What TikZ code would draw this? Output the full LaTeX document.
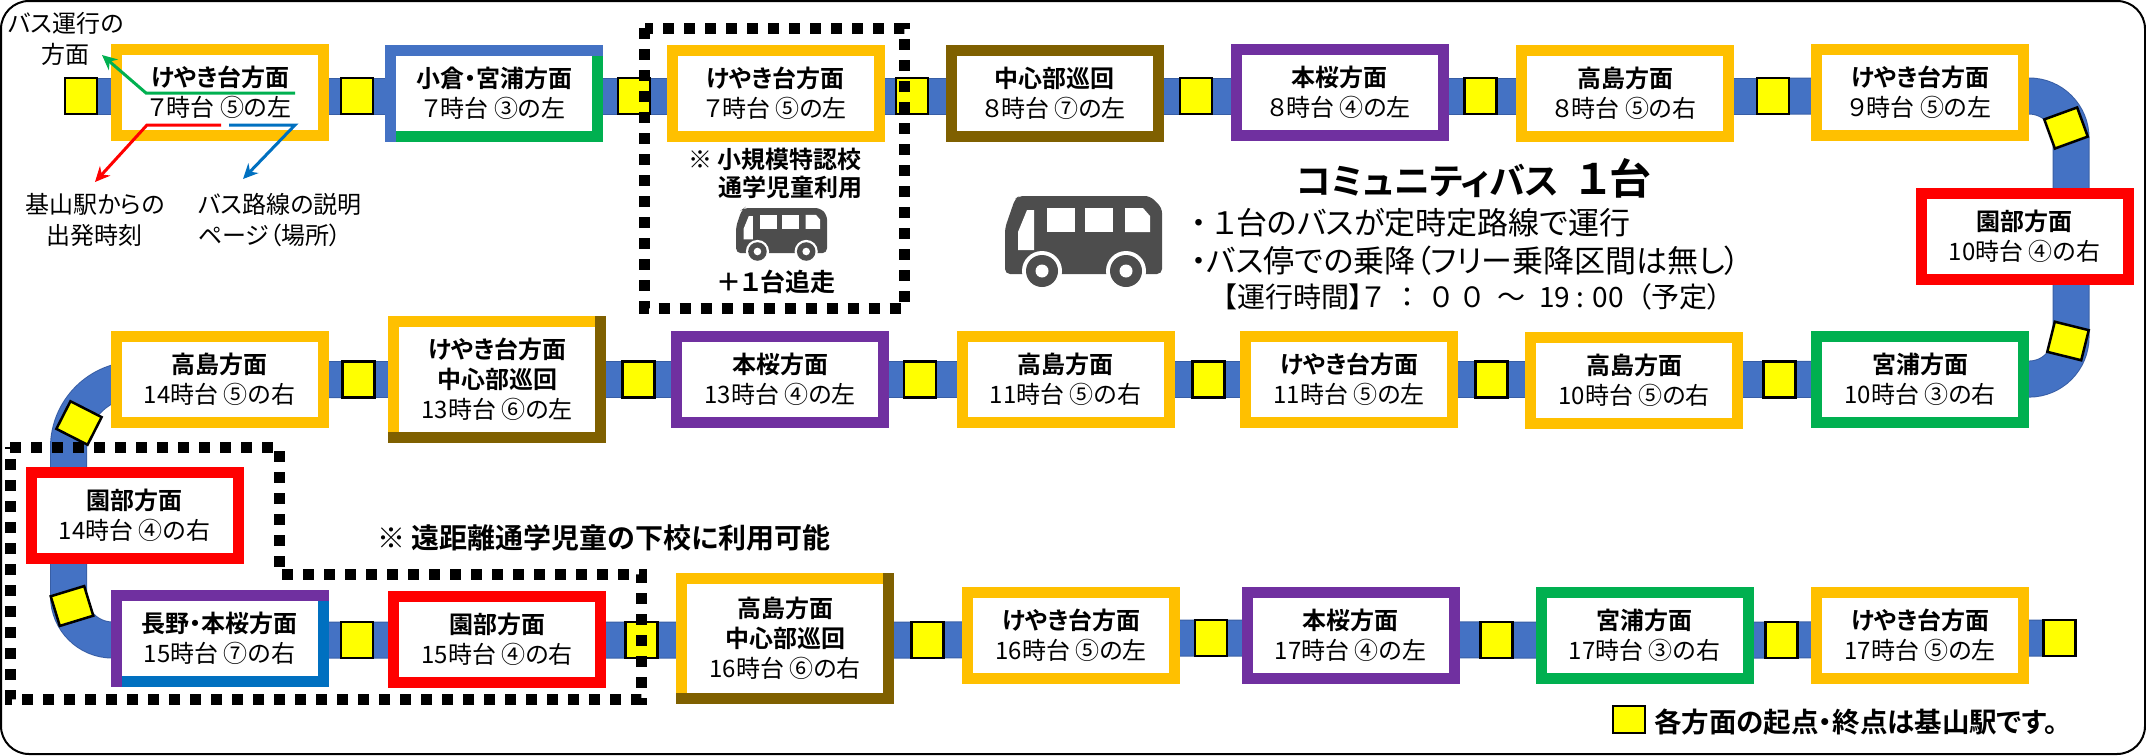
\documentclass[tikz,border=0pt]{standalone}
\usepackage{fontspec}
\usepackage{xcolor}
\usetikzlibrary{arrows.meta,backgrounds}
\setmainfont{Noto Sans CJK JP}[BoldFont={Noto Sans CJK JP Bold},RawFeature={+palt}]
\definecolor{gold}{RGB}{255, 192, 0}
\definecolor{route}{RGB}{68, 114, 196}
\definecolor{routeedge}{RGB}{56, 94, 165}
\definecolor{lawn}{RGB}{0, 176, 80}
\definecolor{sky}{RGB}{0, 112, 192}
\definecolor{plum}{RGB}{112, 48, 160}
\definecolor{umber}{RGB}{127, 96, 0}
\definecolor{lemon}{RGB}{255, 255, 0}
\definecolor{busgray}{RGB}{77, 77, 77}
\tikzset{
  trip/.style={draw=#1, fill=white, line width=11pt, outer sep=0pt, inner sep=0pt,
    minimum width=207pt, minimum height=86pt, align=center,
    font=\fontsize{24}{30}\selectfont},
  stop/.style={draw=black, fill=lemon, line width=2.5pt, inner sep=0pt, outer sep=0pt,
    minimum width=32pt, minimum height=36pt},
  band/.style={draw=routeedge, double=route, double distance=35pt, line width=1pt},
  dots/.style={color=black, line width=11pt, dash pattern=on 11pt off 10pt},
  note/.style={inner sep=0pt, align=center, font=\fontsize{24}{31}\selectfont},
  pointer/.style={line width=3pt, -{Stealth[length=15pt,width=14pt]}},
  busicon/.pic={
    \fill[color=busgray, rounded corners=5pt] (0,78)--(0,32)--(10,3)--(14,0)--(145,0)--(157,12)--(157,78)--cycle;
    \fill[color=white] (22,14)--(29,14)--(29,54)--(13,54)--(13,36)--cycle;
    \fill[color=white] (42,12) rectangle (70,36);
    \fill[color=white] (80,12) rectangle (108,36);
    \fill[color=white] (120,12)--(138,12)--(145,20)--(145,36)--(120,36)--cycle;
    \fill[color=white] (37,75) circle (20);
    \fill[color=white] (121,75) circle (20);
    \fill[color=busgray] (37,75) circle (16);
    \fill[color=busgray] (121,75) circle (16);
    \fill[color=white] (37,75) circle (6.5);
    \fill[color=white] (121,75) circle (6.5);
  }
}

\begin{document}
\begin{tikzpicture}[x=1pt, y=-1pt]
      \useasboundingbox (0,0) rectangle (2146,755);
      \draw[line width=2pt, rounded corners=28pt] (1,1) rectangle (2145,754);
      % first row
      \node[trip=gold] (a1) at (220,92.5) {\textbf{けやき台方面}\\７時台 ⑤の左};
      \node[trip=route] (a2) at (494,93.5) {\textbf{小倉・宮浦方面}\\７時台 ③の左};
      \node[trip=gold] (a3) at (775.5,93.5) {\textbf{けやき台方面}\\７時台 ⑤の左};
      \node[trip=umber] (a4) at (1054.5,93.5) {\textbf{中心部巡回}\\８時台 ⑦の左};
      \node[trip=plum] (a5) at (1339.5,92.5) {\textbf{本桜方面}\\８時台 ④の左};
      \node[trip=gold] (a6) at (1625,93) {\textbf{高島方面}\\８時台 ⑤の右};
      \node[trip=gold] (a7) at (1920,92.5) {\textbf{けやき台方面}\\９時台 ⑤の左};
      \node[trip=red] (a8) at (2024.5,236.5) {\textbf{園部方面}\\10時台 ④の右};
      % second row
      \node[trip=lawn] (b1) at (1920,379) {\textbf{宮浦方面}\\10時台 ③の右};
      \node[trip=gold] (b2) at (1634,380) {\textbf{高島方面}\\10時台 ⑤の右};
      \node[trip=gold] (b3) at (1349,379) {\textbf{けやき台方面}\\11時台 ⑤の左};
      \node[trip=gold] (b4) at (1065.5,379) {\textbf{高島方面}\\11時台 ⑤の右};
      \node[trip=plum] (b5) at (780,379) {\textbf{本桜方面}\\13時台 ④の左};
      \node[trip=gold, minimum height=116pt] (b6) at (497,379) {\textbf{けやき台方面}\\\textbf{中心部巡回}\\13時台 ⑥の左};
      \node[trip=gold] (b7) at (219.5,379.5) {\textbf{高島方面}\\14時台 ⑤の右};
      \node[trip=red] (c1) at (134.5,515.5) {\textbf{園部方面}\\14時台 ④の右};
      % third row
      \node[trip=plum] (d1) at (219.5,638) {\textbf{長野・本桜方面}\\15時台 ⑦の右};
      \node[trip=red] (d2) at (497,639) {\textbf{園部方面}\\15時台 ④の右};
      \node[trip=gold, minimum height=120pt] (d3) at (785,638.5) {\textbf{高島方面}\\\textbf{中心部巡回}\\16時台 ⑥の右};
      \node[trip=gold] (d4) at (1071,635) {\textbf{けやき台方面}\\16時台 ⑤の左};
      \node[trip=plum] (d5) at (1350.5,635) {\textbf{本桜方面}\\17時台 ④の左};
      \node[trip=lawn] (d6) at (1644.5,635) {\textbf{宮浦方面}\\17時台 ③の右};
      \node[trip=gold] (d7) at (1920,635) {\textbf{けやき台方面}\\17時台 ⑤の左};
      % boxes with a second colour
      \draw[color=lawn, line width=11pt] ([yshift=-5.5pt]a2.north east)--(a2.south east)--([xshift=5.5pt]a2.south west);
      \draw[color=sky, line width=11pt] ([yshift=-5.5pt]d1.north east)--(d1.south east)--([xshift=5.5pt]d1.south west);
      \draw[color=umber, line width=11pt, line cap=rect] (b6.north east)--(b6.south east)--(b6.south west);
      \draw[color=umber, line width=11pt, line cap=rect] (d3.north east)--(d3.south east)--(d3.south west);
      % stops
      \node[stop] (s0) at (81,96) {};
      \node[stop] (s1) at (357,96) {};
      \node[stop] (s2) at (634,96) {};
      \node[stop] (s3) at (912,96) {};
      \node[stop] (s4) at (1196,96) {};
      \node[stop] (s5) at (1480.5,96) {};
      \node[stop] (s6) at (1773,96) {};
      \node[stop, minimum width=35pt, minimum height=31pt, rotate=20] (s7) at (2066,128) {};
      \node[stop, minimum width=35pt, minimum height=31pt, rotate=-14] (s8) at (2068,341) {};
      \node[stop] (s9) at (1779.5,379.5) {};
      \node[stop] (s10) at (1491.5,379.5) {};
      \node[stop] (s11) at (1208.5,379.5) {};
      \node[stop] (s12) at (920,379.5) {};
      \node[stop] (s13) at (638.5,379.5) {};
      \node[stop] (s14) at (358.5,379.5) {};
      \node[stop, minimum width=35pt, minimum height=31pt, rotate=-27] (s15) at (79,423) {};
      \node[stop, minimum width=35pt, minimum height=31pt, rotate=17] (s16) at (72,606) {};
      \node[stop] (s17) at (357,640) {};
      \node[stop] (s18) at (641.5,640) {};
      \node[stop] (s19) at (927.5,640) {};
      \node[stop] (s20) at (1211,638) {};
      \node[stop] (s21) at (1496.5,640) {};
      \node[stop] (s22) at (1781.5,640) {};
      \node[stop] (s23) at (2059.5,638) {};
      \node[stop, minimum height=27pt] (s24) at (1629,719.5) {};
      % bends of the route
      \coordinate (nebend) at (2071,96);
      \coordinate (sebend) at (2071,379);
      \coordinate (nwbend) at (68.5,379.5);
      \coordinate (swbend) at (68.5,640);
      \coordinate (wmid) at (68.5,515);
      \begin{pgfonlayer}{background}
      \draw[band] (s0.center)--(s1.center)--(s2.center)--(s3.center)--(s4.center)--(s5.center)--(s6.center);
      \draw[band, rounded corners=42pt] (s6.center)--(nebend)--(sebend)--(s9.center);
      \draw[band] (s9.center)--(s10.center)--(s11.center)--(s12.center)--(s13.center)--(s14.center);
      \draw[band, rounded corners=68pt] (s14.center)--(nwbend)--(wmid);
      \draw[band, rounded corners=44pt] (wmid)--(swbend)--(s17.center);
      \draw[band] (s17.center)--(s18.center)--(s19.center)--(s20.center)--(s21.center)--(s22.center)--(s23.center);
      \end{pgfonlayer}
      % dotted frames
      \draw[dots] (644.5,28) rectangle (904,308);
      \draw[dots] (10,447)--(279,447)--(279,574)--(641,574)--(641,699)--(10,699)--cycle;
      % labels of the first box
      \node[note] (dirnote) at (66,39) {バス運行の\\方面};
      \node[note] (timenote) at (95,220) {基山駅からの\\出発時刻};
      \node[note, align=left] (pagenote) at (280,220) {バス路線の説明\\ページ（場所）};
      \coordinate (g1) at (295,93);
      \coordinate (g2) at (146,93);
      \coordinate (g3) at (102,55);
      \coordinate (r1) at (221,125);
      \coordinate (r2) at (147,125);
      \coordinate (r3) at (95,182);
      \coordinate (u1) at (229,125);
      \coordinate (u2) at (295,125);
      \coordinate (u3) at (243,179);
      \draw[pointer, color=lawn] (g1)--(g2)--(g3);
      \draw[pointer, color=red] (r1)--(r2)--(r3);
      \draw[pointer, color=sky] (u1)--(u2)--(u3);
      % notes
      \node[note, align=left, font=\fontsize{24}{28}\selectfont\bfseries] (smallnote) at (775,173) {※ 小規模特認校\\\hspace*{30pt}通学児童利用};
      \pic[scale=.58] at (736,208) {busicon};
      \node[note, font=\fontsize{25}{28}\selectfont\bfseries] (addnote) at (776,282) {＋１台追走};
      \pic at (1005,196) {busicon};
      \node[note, anchor=west, font=\fontsize{36}{44}\selectfont\bfseries] (title) at (1296,178) {コミュニティバス\hspace{18pt}{\fontsize{42}{44}\selectfont １台}};
      \node[note, anchor=west, font=\fontsize{31}{34}\selectfont] (line1) at (1191,223) {・\hspace{6pt}１台のバスが定時定路線で運行};
      \node[note, anchor=west, font=\fontsize{31}{34}\selectfont] (line2) at (1191,261) {・バス停での乗降（フリー乗降区間は無し）};
      \node[note, anchor=west, font=\fontsize{28}{30}\selectfont] (line3) at (1223,297) {【運行時間】７\hspace{16pt}：\hspace{16pt}０\hspace{10pt}０\hspace{14pt}～\hspace{14pt}19 : 00\hspace{14pt}（予定）};
      \node[note, font=\fontsize{28}{32}\selectfont\bfseries] (farnote) at (604,538) {※ 遠距離通学児童の下校に利用可能};
      \node[note, anchor=west, font=\fontsize{27.5}{30}\selectfont\bfseries] (legend) at (1654,722) {各方面の起点・終点は基山駅です。};
    \end{tikzpicture}
\end{document}
